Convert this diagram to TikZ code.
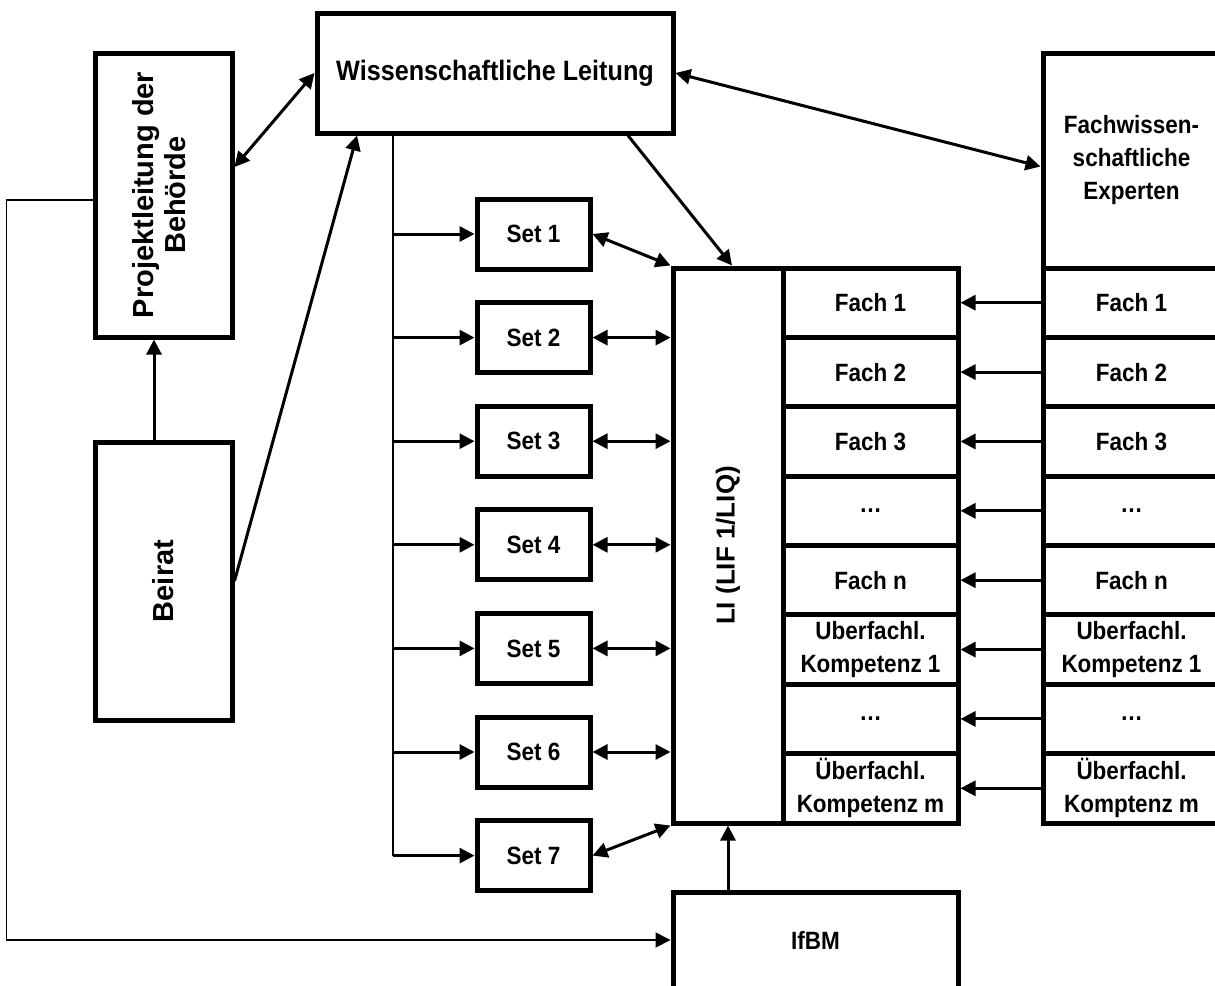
\documentclass[tikz,border=0pt]{standalone}
\usepackage{fontspec}
\usepackage{graphicx}
\usetikzlibrary{arrows.meta}
\newfontfamily\boxfont{Liberation Sans}[FakeStretch=0.9]
\newfontfamily\upfont{Liberation Sans}

\begin{document}
\begin{tikzpicture}[x=1pt, y=-1pt, >={Triangle[length=15pt,width=15pt]},
    box/.style={draw, line width=5pt, inner sep=0pt, align=center,
      font=\boxfont\bfseries\fontsize{25}{33}\selectfont},
    arr/.style={->, line width=3pt},
    darr/.style={<->, line width=3pt},
    thinline/.style={line width=1.8pt}]
    \useasboundingbox (0,0) rectangle (1215,985);
    % 领导
    \node[box, minimum width=356pt, minimum height=120pt,
      font=\boxfont\bfseries\fontsize{28}{32}\selectfont] (wl) at (495,73) {Wissenschaftliche Leitung};
    \node[box, minimum width=137pt, minimum height=284pt] (proj) at (163.5,195)
      {\rotatebox{90}{\upfont\bfseries\fontsize{29}{32}\selectfont\begin{tabular}{@{}c@{}}Projektleitung der\\Behörde\end{tabular}}};
    \node[box, minimum width=137pt, minimum height=278pt] (beirat) at (163.5,581)
      {\rotatebox{90}{\upfont\bfseries\fontsize{29}{32}\selectfont Beirat}};
    \node[box, minimum width=177pt, minimum height=215pt] (experten) at (1131.5,160.5)
      {Fachwissen-\\schaftliche\\Experten};
    % LI und IfBM
    \node[box, minimum width=110pt, minimum height=555pt] (li) at (728,545.5)
      {\rotatebox{90}{\upfont\bfseries\fontsize{26}{30}\selectfont LI (LIF 1/LIQ)}};
    \node[box, minimum width=285pt, minimum height=96pt] (ifbm) at (815.5,940) {IfBM};
    % Sets
    \foreach \i in {1,...,7}
      \node[box, minimum width=113pt, minimum height=70pt] (set\i) at (533.5,{234+103.6*(\i-1)}) {Set \i};
    % Fächer
    \foreach \i/\links/\rechts in {1/Fach 1/Fach 1, 2/Fach 2/Fach 2, 3/Fach 3/Fach 3, 4/…/…,
        5/Fach n/Fach n, 6/{Uberfachl.\\Kompetenz 1}/{Uberfachl.\\Kompetenz 1}, 7/…/…,
        8/{Überfachl.\\Kompetenz m}/{Überfachl.\\Komptenz m}} {
      \node[box, minimum width=175pt, minimum height=69.375pt] (fl\i) at (870.5,{268+69.375*(\i-0.5)}) {\links};
      \node[box, minimum width=177pt, minimum height=69.375pt] (fr\i) at (1131.5,{268+69.375*(\i-0.5)}) {\rechts};
      \draw[arr] (fr\i.west) -- (fl\i.east);
    }
    % 连线
    \draw[darr] ([yshift=28pt]proj.east) -- (wl.west);
    \draw[arr] ([xshift=-9.5pt]beirat.north) -- ([xshift=-9.5pt]proj.south);
    \draw[arr] (beirat.east) -- ([xshift=-138pt]wl.south);
    \draw[darr] (wl.east) -- ([yshift=-6pt]experten.west);
    \draw[arr] ([xshift=133pt]wl.south) -- ([xshift=4pt]li.north);
    % Verteiler
    \coordinate (trunk) at (393,133);
    \draw[thinline] (trunk) -- (trunk |- set7.west);
    \foreach \i in {1,...,7}
      \draw[arr] (trunk |- set\i.west) -- (set\i.west);
    \draw[darr] (set1.east) -- (li.north west);
    \foreach \i in {2,...,6}
      \draw[darr] (set\i.east) -- (set\i.east -| li.west);
    \draw[darr] (set7.east) -- (li.south west);
    % 外环
    \draw[thinline, ->] ([yshift=-5pt]proj.west) -- ++(-86,0) |- (ifbm.west);
    \draw[arr] (ifbm.north -| li.south) -- (li.south);
\end{tikzpicture}
\end{document}
